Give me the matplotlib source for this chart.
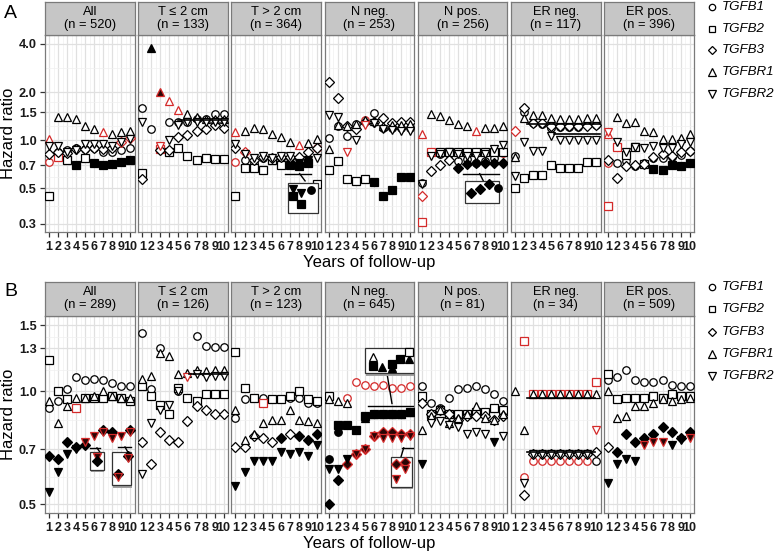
import numpy as np
import matplotlib
matplotlib.use('Agg')
import matplotlib.pyplot as plt
from matplotlib.patches import Rectangle
from matplotlib.lines import Line2D
from matplotlib.ticker import FixedLocator, NullFormatter

plt.rcParams['font.family'] = ['Liberation Sans', 'DejaVu Sans']

nan = np.nan
W, H = 778, 554
years = list(range(1, 11))
genes = ['TGFB1', 'TGFB2', 'TGFB3', 'TGFBR1', 'TGFBR2']
gene_markers = ['o', 's', 'D', '^', 'v']
gene_ms = [5.4, 5.4, 4.6, 6.0, 6.0]

strips_A = ['All\n(n = 520)', 'T ≤ 2 cm\n(n = 133)', 'T > 2 cm\n(n = 364)', 'N neg.\n(n = 253)',
            'N pos.\n(n = 256)', 'ER neg.\n(n = 117)', 'ER pos.\n(n = 396)']
strips_B = ['All\n(n = 289)', 'T ≤ 2 cm\n(n = 126)', 'T > 2 cm\n(n = 123)', 'N neg.\n(n = 645)',
            'N pos.\n(n = 81)', 'ER neg.\n(n = 34)', 'ER pos.\n(n = 509)']

ticks_A = [0.3, 0.5, 0.7, 1.0, 1.5, 2.0, 4.0]
ticklabels_A = ['0.3', '0.5', '0.7', '1.0', '1.5', '2.0', '4.0']
ticks_B = [0.5, 0.7, 1.0, 1.3, 1.5]
ticklabels_B = ['0.5', '0.7', '1.0', '1.3', '1.5']

# style codes: o open, f filled, r red open, d red-edged filled, - missing
# ---------- Panel A ----------
A_all_hr = [[0.73, 0.84, 0.87, 0.90, 0.88, 0.90, 0.85, 0.85, 0.87, 0.90],
            [0.45, 0.79, 0.75, 0.70, 0.77, 0.72, 0.70, 0.71, 0.73, 0.75],
            [0.82, 0.85, 0.83, 0.88, 0.88, 0.90, 0.88, 0.90, 0.98, 1.03],
            [1.02, 1.40, 1.40, 1.35, 1.22, 1.18, 1.12, 1.10, 1.12, 1.15],
            [0.92, 0.92, 0.85, 0.87, 0.95, 0.95, 0.95, 0.92, 0.98, 1.02]]
A_all_sty = ['rooooooooo', 'orofofffff', 'oooooooorr', 'rooooorooo', 'oooooooooo']

A_t2s_hr = [[1.60, 1.17, nan, 1.30, 1.30, 1.30, 1.35, 1.35, 1.45, 1.45],
            [0.62, nan, 0.88, 0.85, 0.90, 0.80, 0.75, 0.78, 0.76, 0.76],
            [0.57, nan, 0.87, 0.87, 1.05, 1.08, 1.15, 1.18, 1.25, 1.20],
            [nan, 3.80, 2.00, 1.75, 1.55, 1.45, 1.40, 1.35, 1.35, 1.35],
            [1.30, nan, 0.92, 1.00, 1.25, 1.30, 1.30, 1.30, 1.30, 1.30]]
A_t2s_sty = ['oo-ooooooo', 'o-rooooooo', 'o-oooooooo', '-fdrrooooo', 'o-rooooooo']

A_t2l_hr = [[0.73, 0.75, 0.72, 0.78, 0.76, 0.78, 0.78, 0.72, 0.75, 0.90],
            [0.45, 0.67, 0.67, 0.65, 0.75, 0.70, 0.70, 0.69, 0.72, 0.53],
            [0.90, 0.85, 0.75, 0.79, 0.78, 0.79, 0.79, 0.79, 0.84, 0.90],
            [1.12, 1.15, 1.20, 1.17, 1.10, 1.05, 0.97, 0.93, 0.96, 1.02],
            [0.95, 0.82, 0.78, 0.80, 0.78, 0.80, 0.80, 0.72, 0.75, 0.78]]
A_t2l_sty = ['roooooooor', 'oooooofffo', 'oroooooooo', 'rooooooroo', 'oooooooffo']

A_nneg_hr = [[1.04, 1.22, 1.06, 1.27, 1.34, 1.47, 1.20, 1.20, 1.20, 1.20],
             [0.65, 0.74, 0.57, 0.56, 0.57, 0.55, 0.45, 0.49, 0.59, 0.59],
             [2.30, 1.85, 1.23, 1.17, 1.30, 1.30, 1.37, 1.28, 1.30, 1.30],
             [0.88, 1.24, 1.22, 1.27, 1.34, 1.32, 1.22, 1.24, 1.25, 1.26],
             [1.43, 1.39, 0.85, 1.00, 1.25, 1.28, 1.18, 1.16, 1.15, 1.15]]
A_nneg_sty = ['oooorooooo', 'ooooofffff', 'oooooooooo', 'oooooooooo', 'oororooooo']

A_npos_hr = [[0.54, 0.84, 0.82, 0.82, 0.74, 0.76, 0.72, 0.74, 0.78, 0.83],
             [0.31, 0.85, 0.84, 0.84, 0.84, 0.84, 0.84, 0.84, 0.84, 0.84],
             [0.45, 0.64, 0.70, 0.75, 0.67, 0.71, 0.72, 0.72, 0.72, 0.72],
             [1.10, 1.45, 1.42, 1.34, 1.27, 1.23, 1.14, 1.20, 1.20, 1.23],
             [0.53, 0.80, 0.82, 0.84, 0.82, 0.80, 0.80, 0.82, 0.88, 0.94]]
A_npos_sty = ['ooooooooor', 'rroooooooo', 'roooffffff', 'rooooorooo', 'oooooooooo']

A_erneg_hr = [[0.80, 1.50, 1.29, 1.27, 1.20, 1.21, 1.21, 1.21, 1.24, 1.24],
              [0.50, 0.58, 0.61, 0.61, 0.70, 0.67, 0.67, 0.67, 0.73, 0.73],
              [1.14, 1.60, 1.29, 1.29, 1.23, 1.23, 1.22, 1.22, 1.23, 1.24],
              [0.79, 1.37, 1.43, 1.43, 1.37, 1.36, 1.36, 1.36, 1.38, 1.37],
              [0.60, 0.97, 0.86, 0.86, 1.07, 1.01, 1.01, 1.01, 1.01, 1.01]]
A_erneg_sty = ['oooooooooo', 'oooooooooo', 'rooooooooo', 'oooooooooo', 'oooooooooo']

A_erpos_hr = [[0.72, 0.72, 0.74, 0.69, 0.72, 0.78, 0.78, 0.79, 0.81, 0.86],
              [0.39, 0.91, 0.81, 0.91, 0.71, 0.66, 0.65, 0.70, 0.69, 0.72],
              [0.75, 0.58, 0.69, 0.70, 0.71, 0.79, 0.82, 0.80, 0.84, 0.86],
              [1.10, 1.39, 1.29, 1.31, 1.14, 1.12, 1.02, 1.02, 1.04, 1.10],
              [1.13, 0.97, 0.84, 0.91, 0.90, 0.92, 0.90, 0.90, 0.95, 0.97]]
A_erpos_sty = ['rooooooooo', 'rrooofffff', 'oooooooooo', 'rooooooooo', 'rooooooooo']

# ---------- Panel B ----------
B_all_hr = [[0.90, 0.94, 1.01, 1.09, 1.07, 1.08, 1.07, 1.05, 1.03, 1.03],
            [1.21, 1.00, 0.95, 0.90, 0.96, 0.96, 0.96, 0.97, 0.96, 0.94],
            [0.67, 0.66, 0.73, 0.71, 0.72, nan, 0.79, 0.78, nan, 0.79],
            [0.94, 0.82, 0.91, 0.96, 0.96, 0.97, 1.00, 0.97, 0.96, 0.96],
            [0.54, 0.61, 0.68, 0.70, 0.73, 0.76, 0.78, 0.75, 0.76, 0.78]]
B_all_sty = ['oooooooooo', 'oooroooooo', 'fffff-ff-f', 'oooooooooo', 'ffffdddddd']

B_t2s_hr = [[1.43, 1.01, 1.30, nan, 1.00, nan, 1.40, 1.32, 1.31, 1.31],
            [1.03, 0.97, 0.92, 0.87, 1.02, 0.96, 0.94, 0.98, 0.98, 0.98],
            [0.73, 0.64, 0.78, 0.74, 0.73, 0.83, 0.91, 0.89, 0.87, 0.87],
            [1.08, 1.10, 1.26, 1.24, 1.11, 1.12, 1.14, 1.13, 1.14, 1.14],
            [0.60, 0.82, 0.89, 0.92, 1.00, 1.09, 1.11, 1.09, 1.10, 1.10]]
B_t2s_sty = ['ooo-o-oooo', 'oooooooooo', 'oooooooooo', 'oooooooooo', 'oooooroooo']

B_t2l_hr = [[0.85, 0.95, 0.96, 0.96, 0.95, 0.95, 0.96, 0.96, 0.93, 0.93],
            [1.27, 1.02, 0.96, 0.93, 0.95, 0.95, 0.97, 1.00, 0.95, 0.94],
            [0.71, 0.71, 0.76, 0.75, 0.73, 0.75, 0.77, 0.76, 0.74, 0.77],
            [0.89, 0.74, 0.77, 0.82, 0.84, 0.84, 0.89, 0.84, 0.83, 0.82],
            [0.56, 0.61, 0.65, 0.65, 0.65, 0.69, 0.68, 0.69, 0.67, 0.72]]
B_t2l_sty = ['oooooooooo', 'oooroooooo', 'ooooofofff', 'oooooooooo', 'ffffffffff']

B_nneg_hr = [[0.66, 0.78, 0.96, 1.06, 1.04, 1.03, 1.04, 1.02, 1.02, 1.03],
             [0.97, 0.81, 0.81, 0.79, 0.86, 0.87, 0.87, 0.87, 0.87, 0.88],
             [0.50, 0.58, 0.64, 0.68, 0.70, 0.76, 0.78, 0.78, 0.77, 0.77],
             [0.95, 0.94, 0.93, nan, 0.85, 0.87, 0.87, 0.87, 0.87, 0.88],
             [0.62, 0.62, 0.66, 0.68, 0.70, 0.76, 0.75, 0.75, 0.75, 0.76]]
B_nneg_sty = ['ffrrrrrrrr', 'offfffffff', 'ffdddddddd', 'ooo-ffffff', 'fffddddddd']

B_npos_hr = [[1.03, 0.93, 0.90, 0.96, 1.01, 1.02, 1.03, 1.01, 0.98, 0.94],
             [0.97, 0.87, 0.89, 0.87, 0.87, 0.87, 0.88, 0.88, 0.90, 0.89],
             [0.93, 0.87, 0.89, 0.87, 0.84, 0.86, 0.86, 0.86, 0.84, 0.86],
             [0.79, 0.86, 0.89, 0.82, 0.85, 0.87, 0.91, 0.85, 0.84, 0.87],
             [0.64, 0.82, 0.83, 0.81, 0.80, 0.77, 0.78, 0.77, 0.73, 0.76]]
B_npos_sty = ['oooooooooo', 'oooooooooo', 'oooooooooo', 'oooooooooo', 'fooooooofo']

B_erneg_hr = [[nan, 0.59, 0.65, 0.65, 0.65, 0.65, 0.65, 0.65, 0.65, 0.65],
              [nan, 1.36, 0.98, 0.98, 0.98, 0.98, 0.98, 0.98, 0.98, 1.06],
              [nan, 0.53, 0.68, 0.68, 0.68, 0.68, 0.68, 0.68, 0.68, 0.69],
              [1.00, 0.79, 0.98, 0.98, 0.98, 0.98, 0.98, 0.98, 0.98, 0.98],
              [nan, 0.57, 0.68, 0.68, 0.68, 0.68, 0.68, 0.68, 0.68, 0.79]]
B_erneg_sty = ['-rrrrrrrro', '-rrrrrrrrr', '-ooooooooor', 'oooooooooo', '-oooooooor']

B_erpos_hr = [[1.07, 1.09, 1.14, 1.07, 1.06, 1.06, 1.07, 1.04, 1.03, 1.03],
              [1.11, 0.95, 0.96, 0.96, 0.96, 0.97, 0.96, 0.98, 0.97, 0.97],
              [0.71, 0.69, 0.77, 0.73, 0.75, 0.77, 0.80, 0.78, 0.75, 0.78],
              [1.00, 0.85, 0.86, 0.91, 0.91, 0.93, 0.95, 0.94, 0.95, 0.96],
              [0.57, 0.64, 0.66, 0.65, 0.72, 0.73, 0.73, 0.72, 0.74, 0.75]]
B_erpos_sty = ['oooooooooo', 'oooooooooo', 'offfffffff', 'oooooooooo', 'ffffdddffd']

# horizontal reference segments: (panel, hr, year_from, year_to)
A_segments = [(1, 1.33, 5.0, 10.4), (5, 1.27, 2.3, 10.4), (5, 1.09, 5.3, 10.4)]
B_segments = [(1, 1.11, 6.2, 10.3), (5, 0.96, 2.3, 9.8), (5, 0.69, 2.3, 9.8)]

# zoom insets: (panel, box(x0,x1,y0,y1), connector lines [(x,x),(y,y)], markers [(x,y,gene,style)])
A_insets = [
    (2, (6.8, 10.15, 0.353, 0.543),
     [((6.5, 9.4), (0.618, 0.618)), ((8.1, 8.7), (0.618, 0.557))],
     [(7.37, 0.494, 4, 'f'), (7.37, 0.449, 1, 'f'), (8.3, 0.47, 4, 'f'),
      (8.3, 0.398, 1, 'f'), (9.4, 0.49, 0, 'f')]),
    (4, (5.8, 9.5, 0.408, 0.557),
     [((5.6, 9.5), (0.618, 0.618)), ((7.4, 7.8), (0.618, 0.557))],
     [(6.45, 0.47, 2, 'f'), (7.45, 0.494, 2, 'f'), (8.48, 0.53, 2, 'f'), (9.45, 0.50, 0, 'f')]),
]
B_insets = [
    (0, (5.56, 7.03, 0.618, 0.689),
     [((5.56, 6.6), (0.706, 0.706)), ((6.3, 6.6), (0.706, 0.689))],
     [(6.3, 0.667, 4, 'd'), (6.3, 0.652, 2, 'f')]),
    (0, (7.97, 10.08, 0.561, 0.689),
     [((8.66, 10.1), (0.71, 0.71)), ((9.4, 9.7), (0.71, 0.689))],
     [(8.6, 0.60, 2, 'f'), (8.6, 0.589, 4, 'd'), (9.74, 0.67, 2, 'f'), (9.74, 0.662, 4, 'd')]),
    (3, (5.04, 10.4, 1.115, 1.30),
     [((7.45, 8.0), (1.115, 0.927)), ((5.4, 10.45), (0.914, 0.914))],
     [(5.9, 1.23, 3, 'o'), (5.9, 1.168, 1, 'f'), (6.9, 1.157, 3, 'f'), (8.0, 1.18, 1, 'f'),
      (8.0, 1.15, 3, 'f'), (8.93, 1.215, 1, 'f'), (9.93, 1.215, 3, 'f'), (9.93, 1.27, 1, 'o')]),
    (3, (7.94, 10.24, 0.556, 0.668),
     [((9.1, 10.4), (0.706, 0.706)), ((9.3, 9.0), (0.706, 0.668))],
     [(8.45, 0.641, 2, 'd'), (9.49, 0.648, 2, 'd'), (9.49, 0.62, 4, 'd'), (8.45, 0.585, 4, 'd')]),
]

A_panels = [(A_all_hr, A_all_sty), (A_t2s_hr, A_t2s_sty), (A_t2l_hr, A_t2l_sty),
            (A_nneg_hr, A_nneg_sty), (A_npos_hr, A_npos_sty), (A_erneg_hr, A_erneg_sty),
            (A_erpos_hr, A_erpos_sty)]
B_panels = [(B_all_hr, B_all_sty), (B_t2s_hr, B_t2s_sty), (B_t2l_hr, B_t2l_sty),
            (B_nneg_hr, B_nneg_sty), (B_npos_hr, B_npos_sty), (B_erneg_hr, B_erneg_sty),
            (B_erpos_hr, B_erpos_sty)]

RED = '#d42a2a'


def style_kw(c):
    if c == 'f':
        return dict(mfc='black', mec='black')
    if c == 'r':
        return dict(mfc='white', mec=RED)
    if c == 'd':
        return dict(mfc='#2a0505', mec=RED)
    return dict(mfc='white', mec='black')


fig = plt.figure(figsize=(W / 100, H / 100), dpi=100)


def draw_row(panels, strips, ylim, yticks, yticklabels, strip_top, top_px, bot_px,
             segments, insets, legend_y):
    minor = [np.sqrt(a * b) for a, b in zip(yticks[:-1], yticks[1:])]
    for p in range(7):
        left = 45 + p * 93.2
        ax = fig.add_axes([left / W, 1 - bot_px / H, 89.5 / W, (bot_px - top_px) / H])
        ax.set_yscale('log')
        ax.set_xlim(0.55, 10.45)
        ax.set_ylim(*ylim)
        ax.set_axisbelow(True)
        ax.yaxis.set_major_locator(FixedLocator(yticks))
        ax.yaxis.set_minor_locator(FixedLocator(minor))
        ax.yaxis.set_minor_formatter(NullFormatter())
        ax.xaxis.set_major_locator(FixedLocator(years))
        ax.xaxis.set_minor_locator(FixedLocator(np.arange(1.5, 10, 1.0)))
        ax.grid(which='major', color='#e0e0e0', lw=0.9)
        ax.grid(which='minor', color='#f0f0f0', lw=0.5)
        ax.tick_params(which='minor', length=0)
        ax.tick_params(axis='x', which='major', length=3.6, color='#333333', width=0.9, pad=3.2)
        ax.tick_params(axis='y', which='major', length=3.6, color='#333333', width=0.9, pad=2.5)
        ax.set_xticklabels([str(y) for y in years], fontsize=9, fontweight='bold', color='#1a1a1a')
        if p == 0:
            ax.set_yticklabels(yticklabels, fontsize=9.2, fontweight='bold', color='#1a1a1a')
        else:
            ax.set_yticklabels([])
            ax.tick_params(axis='y', length=0)
        for s in ax.spines.values():
            s.set_color('#7a7a7a')
            s.set_linewidth(0.9)
        hr, sty = panels[p]
        for g in range(5):
            codes = (sty[g] + 'o' * 10)[:10]
            for i, yv in enumerate(hr[g]):
                if np.isnan(yv) or codes[i] == '-':
                    continue
                ax.plot([years[i]], [yv], ls='none', marker=gene_markers[g], ms=gene_ms[g],
                        mew=0.9, zorder=3, **style_kw(codes[i]))
        for (pp, yv, x0, x1) in segments:
            if pp == p:
                ax.plot([x0, x1], [yv, yv], color='black', lw=1.2, zorder=4)
        for (pp, box, lines, marks) in insets:
            if pp != p:
                continue
            x0, x1, y0, y1 = box
            for lx, ly in lines:
                ax.plot(lx, ly, color='black', lw=1.0, zorder=5)
            ax.add_patch(Rectangle((x0 + 0.1, y0 * 0.985), x1 - x0, y1 - y0, facecolor='#a0a0a0',
                                   edgecolor='none', zorder=5))
            ax.add_patch(Rectangle((x0, y0), x1 - x0, y1 - y0, facecolor='white',
                                   edgecolor='#333333', lw=0.9, zorder=5.5))
            for (mx, my, g, c) in marks:
                ax.plot([mx], [my], ls='none', marker=gene_markers[g], ms=gene_ms[g],
                        mew=0.9, zorder=6, **style_kw(c))
        # strip
        sax = fig.add_axes([left / W, 1 - top_px / H, 89.5 / W, (top_px - strip_top) / H])
        sax.set_facecolor('#c6c6c6')
        sax.set_xticks([])
        sax.set_yticks([])
        for s in sax.spines.values():
            s.set_color('#7a7a7a')
            s.set_linewidth(0.9)
        sax.text(0.5, 0.5, strips[p], ha='center', va='center', fontsize=9.3,
                 linespacing=1.1, transform=sax.transAxes)
    mid = (top_px + bot_px) / 2
    fig.text(9 / W, 1 - mid / H, 'Hazard ratio', rotation=90, ha='center', va='center', fontsize=12)
    fig.text(369.5 / W, 1 - (bot_px + 31) / H, 'Years of follow-up', ha='center', va='center',
             fontsize=12)
    for g in range(5):
        yy = 1 - legend_y[g] / H
        fig.add_artist(Line2D([712 / W], [yy], ls='none', marker=gene_markers[g],
                              ms=gene_ms[g] * 0.85, mfc='white', mec='black', mew=0.9))
        fig.text(722 / W, yy, genes[g], ha='left', va='center', fontsize=9.6, style='italic')


draw_row(A_panels, strips_A, (0.267, 4.55), ticks_A, ticklabels_A, 2, 35, 232,
         A_segments, A_insets, [7, 29, 50, 72, 94])
draw_row(B_panels, strips_B, (0.475, 1.59), ticks_B, ticklabels_B, 282, 315.5, 512.5,
         B_segments, B_insets, [287, 309, 332, 354, 376])

fig.text(4 / W, 1 - 13 / H, 'A', fontsize=14, ha='left', va='center')
fig.text(4 / W, 1 - 291 / H, 'B', fontsize=14, ha='left', va='center')

fig.savefig('out.png', dpi=100)
